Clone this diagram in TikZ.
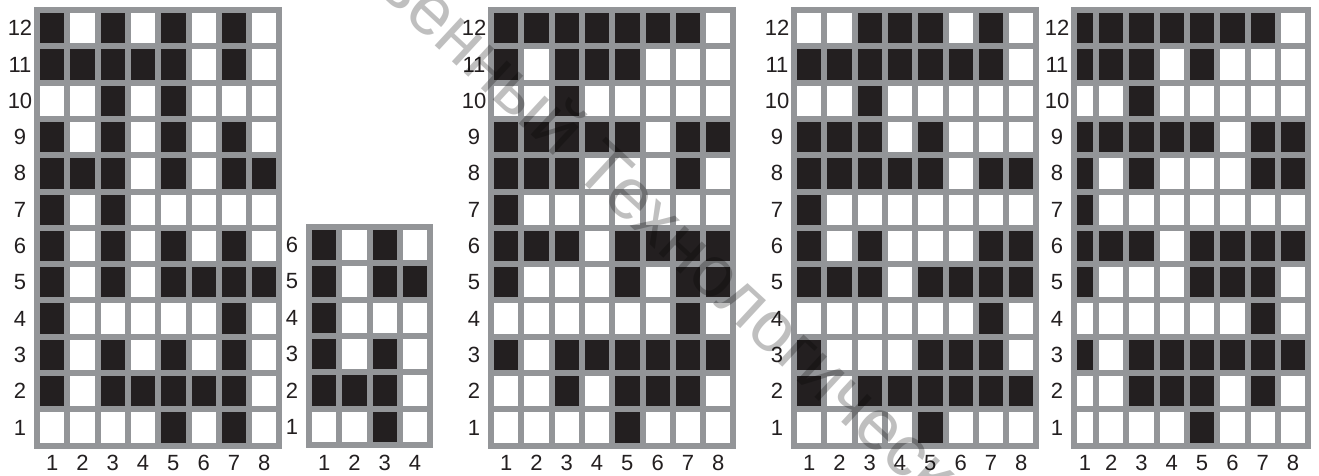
\documentclass[tikz,border=0pt]{standalone}
\usepackage{fontspec}
\setmainfont{Liberation Sans}
\definecolor{gridgray}{HTML}{939598}
\definecolor{cellblack}{HTML}{231F20}
\tikzset{
  lab/.style={text=cellblack, inner sep=0pt, font=\fontsize{22}{22}\selectfont},
  blackcell/.style={fill=cellblack},
  whitecell/.style={fill=white},
  wmark/.style={text=black, text opacity=0.25, inner sep=0pt, font=\fontsize{72}{72}\selectfont}
}
% #1 X0, #2 Y0, #3 ncols, #4 nrows, #5 first col width, #6 id, #7 data (rows top to bottom)
\newcommand\pixgrid[7]{%
  \pgfmathsetmacro\gw{#3*30.3+6-(24.3-#5)}%
  \pgfmathsetmacro\gh{#4*36.3+6}%
  \fill[gridgray] (#1,#2) rectangle ++(\gw,\gh);
  \foreach \rowlist [count=\r] in {#7} {
    \pgfmathsetmacro\cy{#2+6+(\r-1)*36.3}
    \pgfmathtruncatemacro\rn{#4-\r+1}
    \node[lab] (#6-r\rn) at (#1-14,\cy+15.15) {\rn};
    \foreach \v [count=\c] in \rowlist {
      \pgfmathsetmacro\cx{#1+6+(\c-1)*30.3-(\c>1?(24.3-#5):0)}
      \pgfmathsetmacro\cw{\c==1?#5:24.3}
      \ifnum\v=1
        \fill[blackcell] (\cx,\cy) rectangle ++(\cw,30.3);
      \else
        \fill[whitecell] (\cx,\cy) rectangle ++(\cw,30.3);
      \fi
    }
  }
  \foreach \c in {1,...,#3} {
    \pgfmathsetmacro\cx{#1+6+(\c-1)*30.3-(\c>1?(24.3-#5):0)}
    \pgfmathsetmacro\cw{\c==1?#5:24.3}
    \node[lab] (#6-c\c) at (\cx+\cw/2,463) {\c};
  }
}
\begin{document}
\begin{tikzpicture}[x=1pt,y=-1pt]
\useasboundingbox (0,0) rectangle (1319,475);
\fill[white] (0,0) rectangle (1319,475);
\pixgrid{34}{7}{8}{12}{24.3}{A}{
 {1,0,1,0,1,0,1,0},
 {1,1,1,1,1,0,1,0},
 {0,0,1,0,1,0,0,0},
 {1,0,1,0,1,0,1,0},
 {1,1,1,0,1,0,1,1},
 {1,0,1,0,0,0,0,0},
 {1,0,1,0,1,0,1,0},
 {1,0,1,0,1,1,1,1},
 {1,0,0,0,0,0,1,0},
 {1,0,1,0,1,0,1,0},
 {1,0,1,1,1,1,1,0},
 {0,0,0,0,1,0,1,0}}
\pixgrid{306}{224}{4}{6}{24.3}{B}{
 {1,0,1,0},
 {1,0,1,1},
 {1,0,0,0},
 {1,0,1,0},
 {1,1,1,0},
 {0,0,1,0}}
\pixgrid{488}{7}{8}{12}{24.3}{C}{
 {1,1,1,1,1,1,1,0},
 {1,0,1,1,1,0,0,0},
 {0,0,1,0,0,0,0,0},
 {1,1,1,1,1,0,1,1},
 {1,1,1,0,0,0,1,0},
 {1,0,0,0,0,0,0,0},
 {1,1,1,0,1,1,1,1},
 {1,0,0,0,1,0,1,1},
 {0,0,0,0,0,0,1,0},
 {1,0,1,1,1,1,1,1},
 {0,0,1,0,1,1,1,0},
 {0,0,0,0,1,0,0,0}}
\pixgrid{791}{7}{8}{12}{24.3}{D}{
 {0,0,1,1,1,0,1,0},
 {1,1,1,1,1,1,1,0},
 {0,0,1,0,0,0,0,0},
 {1,1,1,0,1,0,0,0},
 {1,1,1,1,1,0,1,1},
 {1,0,0,0,0,0,0,0},
 {1,0,1,0,0,0,1,1},
 {1,1,1,0,1,1,1,1},
 {0,0,0,0,0,0,1,0},
 {1,0,0,0,1,1,1,0},
 {1,0,1,1,1,1,1,1},
 {0,0,0,0,1,0,0,0}}
\pixgrid{1071}{7}{8}{12}{16}{E}{
 {1,1,1,1,1,1,1,0},
 {1,1,1,0,1,0,0,0},
 {0,0,1,0,0,0,0,0},
 {1,1,1,1,1,0,1,1},
 {1,0,1,0,0,0,1,1},
 {1,0,0,0,0,0,0,0},
 {1,1,1,0,1,1,1,1},
 {1,0,0,0,1,1,1,0},
 {0,0,0,0,0,0,1,0},
 {1,0,1,1,1,1,1,1},
 {0,0,1,1,1,0,1,0},
 {0,0,0,0,1,0,0,0}}
\node[wmark, rotate=-42.8, anchor=base west] (wm) at (402,15) {\llap{государств}енный Технологичес\rlap{кий}};
\end{tikzpicture}
\end{document}
